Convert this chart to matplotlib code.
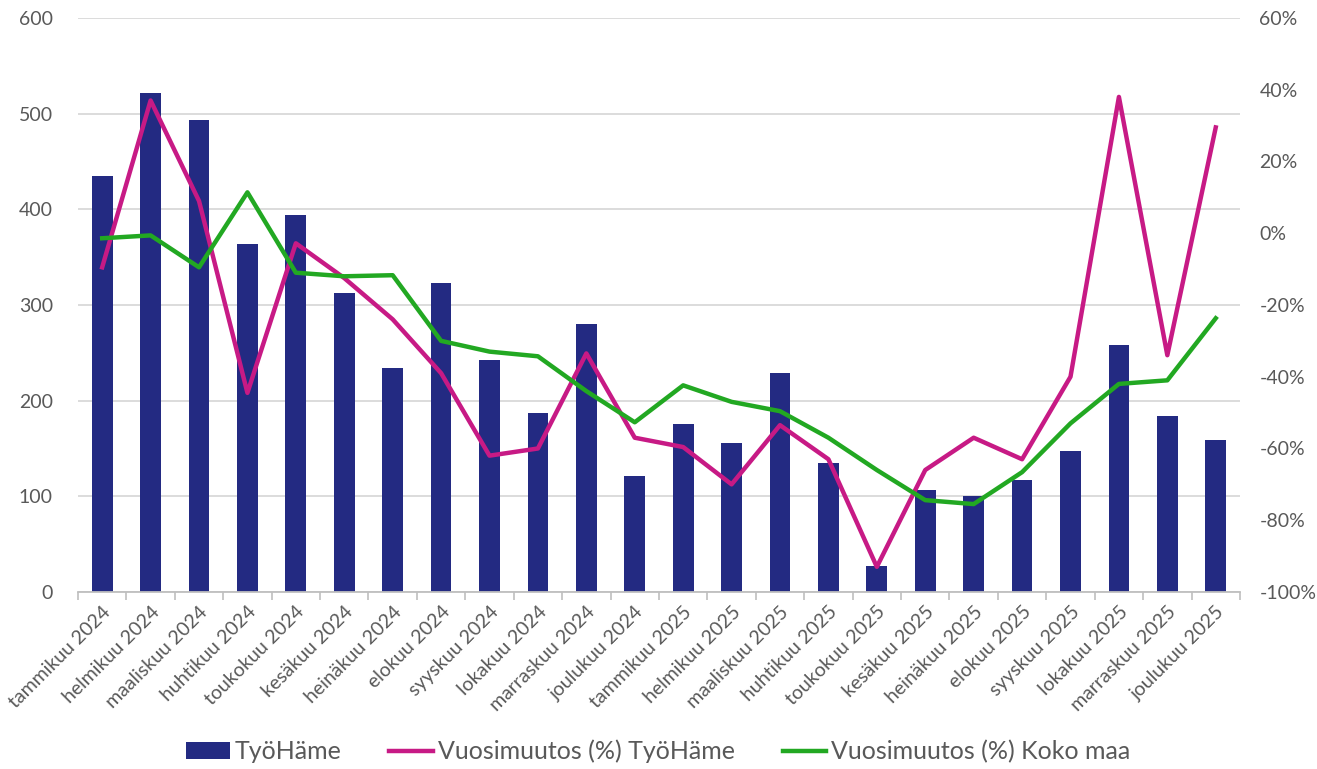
import matplotlib
matplotlib.use("Agg")
import matplotlib.pyplot as plt
from matplotlib.ticker import FuncFormatter, MultipleLocator
import numpy as np

plt.rcParams['font.family'] = ['Lato', 'DejaVu Sans']

# Data
months = ["tammikuu 2024", "helmikuu 2024", "maaliskuu 2024", "huhtikuu 2024",
          "toukokuu 2024", "kesäkuu 2024", "heinäkuu 2024", "elokuu 2024",
          "syyskuu 2024", "lokakuu 2024", "marraskuu 2024", "joulukuu 2024",
          "tammikuu 2025", "helmikuu 2025", "maaliskuu 2025", "huhtikuu 2025",
          "toukokuu 2025", "kesäkuu 2025", "heinäkuu 2025", "elokuu 2025",
          "syyskuu 2025", "lokakuu 2025", "marraskuu 2025", "joulukuu 2025"]

tyohame = [435, 522, 493, 364, 394, 313, 234, 323, 243, 187, 280, 121,
           176, 156, 229, 135, 27, 107, 100, 117, 147, 258, 184, 159]

muutos_tyohame = [-9.5, 37.0, 9.0, -44.5, -2.8, -12.5, -24.0, -39.0, -62.0, -60.0, -33.5, -57.0,
                  -59.6, -70.0, -53.5, -63.0, -93.0, -66.0, -57.0, -63.0, -40.0, 38.0, -34.0, 29.5]

muutos_koko_maa = [-1.4, -0.6, -9.5, 11.4, -11.0, -12.0, -11.7, -30.0, -33.0, -34.3, -44.0, -52.7,
                   -42.4, -47.0, -49.6, -57.0, -66.0, -74.4, -75.5, -66.6, -53.0, -42.0, -41.0, -23.7]

bar_color = "#232A82"
magenta = "#C71A85"
green = "#22A822"
text_gray = "#595959"

fig = plt.figure(figsize=(13.17, 7.69), dpi=100)
ax = fig.add_axes([0.0592, 0.2302, 0.8823, 0.7464])
x = np.arange(len(months))

bars = ax.bar(x, tyohame, width=0.43, color=bar_color, zorder=2, label="TyöHäme")
ax.set_ylim(0, 600)
ax.set_xlim(-0.5, len(months) - 0.5)
ax.yaxis.set_major_locator(MultipleLocator(100))
ax.grid(axis="y", color="#D9D9D9", linewidth=1.3, zorder=0)
ax.set_axisbelow(True)

for s in ["top", "right", "left"]:
    ax.spines[s].set_visible(False)
ax.spines["bottom"].set_color("#BFBFBF")
ax.spines["bottom"].set_linewidth(1.3)

ax.set_xticks(x)
ax.set_xticklabels(months, rotation=45, ha="right", rotation_mode="anchor",
                   fontsize=14, color=text_gray)
ax.tick_params(axis="x", length=0, pad=8)
ax.set_xticks(np.arange(-0.5, len(months)), minor=True)
ax.tick_params(axis="x", which="minor", length=6, color="#BFBFBF", width=1.2)
ax.tick_params(axis="y", length=0, labelsize=14, labelcolor=text_gray, pad=18)

ax2 = ax.twinx()
l1, = ax2.plot(x, muutos_tyohame, color=magenta, linewidth=3.2, label="Vuosimuutos (%) TyöHäme",
               solid_joinstyle="round", zorder=3)
l2, = ax2.plot(x, muutos_koko_maa, color=green, linewidth=3.2, label="Vuosimuutos (%) Koko maa",
               solid_joinstyle="round", zorder=3)
ax2.set_ylim(-100, 60)
ax2.yaxis.set_major_locator(MultipleLocator(20))
ax2.yaxis.set_major_formatter(FuncFormatter(lambda v, p: f"{v:.0f}%"))
ax2.tick_params(axis="y", length=0, labelsize=14, labelcolor=text_gray, pad=14)
for s in ["top", "right", "left", "bottom"]:
    ax2.spines[s].set_visible(False)

fig.legend([bars, l1, l2], ["TyöHäme", "Vuosimuutos (%) TyöHäme", "Vuosimuutos (%) Koko maa"],
           loc="lower center", bbox_to_anchor=(0.5, -0.022), ncol=3, frameon=False,
           fontsize=18, labelcolor=text_gray, handlelength=1.75, handleheight=0.65,
           columnspacing=1.9, handletextpad=0.2)

fig.savefig("out.png", dpi=100)
